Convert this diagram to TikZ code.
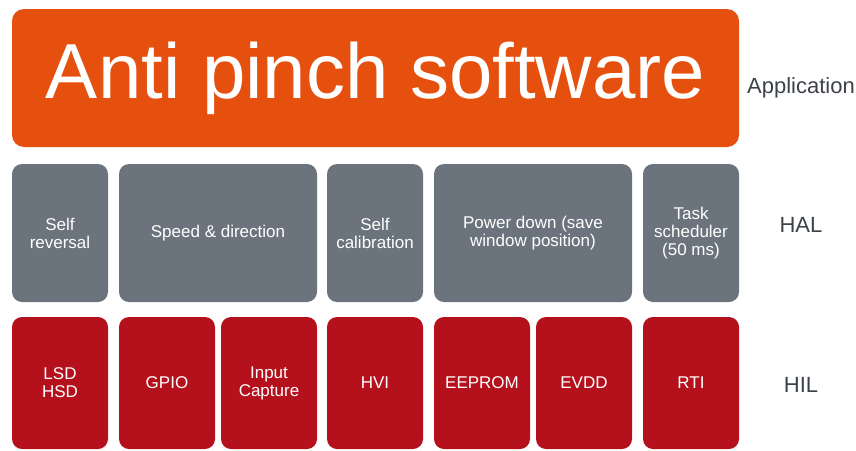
\documentclass[tikz,border=0pt]{standalone}
\usepackage{fontspec}
\setmainfont{Liberation Sans}
\usepackage{xcolor}
\usetikzlibrary{positioning}
\definecolor{apporange}{HTML}{E6500F}
\definecolor{halgray}{HTML}{6B747C}
\definecolor{hilred}{HTML}{B5111D}
\definecolor{layertext}{HTML}{3C4247}
\tikzset{
  layerbox/.style={rounded corners=10pt,inner sep=2pt,align=center,text=white,
    font=\fontsize{17}{18}\selectfont},
  halbox/.style={layerbox,fill=halgray,minimum height=138pt},
  hilbox/.style={layerbox,fill=hilred,minimum height=132pt},
  layername/.style={text=layertext,font=\fontsize{22}{24}\selectfont}
}

\begin{document}
\begin{tikzpicture}[x=1pt,y=-1pt]
\useasboundingbox (0,0) rectangle (856,450);
% application layer
\node (app) [layerbox,rounded corners=12pt,fill=apporange,minimum width=727pt,minimum height=138pt,
  font=\fontsize{78}{80}\selectfont] at (375.5,78) {Anti pinch software};
%
\node (selfrev) [halbox,minimum width=96pt] at (60,233) {Self\\reversal};
\node (speed) [halbox,minimum width=198pt] at (218,233) {Speed \& direction};
\node (selfcal) [halbox,minimum width=96pt] at (375,233) {Self\\calibration};
\node (powerdown) [halbox,minimum width=198pt] at (533,233) {Power down (save\\window position)};
\node (task) [halbox,minimum width=96pt] at (691,233) {Task\\scheduler\\(50 ms)};
%
\node (lsd) [hilbox,minimum width=96pt] at (60,383) {LSD\\HSD};
\node (gpio) [hilbox,minimum width=96pt] at (167,383) {GPIO};
\node (capture) [hilbox,minimum width=96pt] at (269,383) {Input\\Capture};
\node (hvi) [hilbox,minimum width=96pt] at (375,383) {HVI};
\node (eeprom) [hilbox,minimum width=96pt] at (482,383) {EEPROM};
\node (evdd) [hilbox,minimum width=96pt] at (584,383) {EVDD};
\node (rti) [hilbox,minimum width=96pt] at (691,383) {RTI};
% layer names
\node (application) [layername] at (801,88) {Application};
\node (hal) [layername] at (801,225) {HAL};
\node (hil) [layername] at (801,385) {HIL};
\end{tikzpicture}
\end{document}
